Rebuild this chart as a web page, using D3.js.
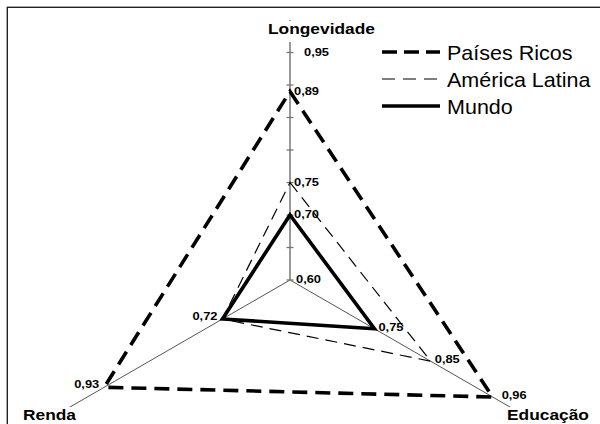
<!DOCTYPE html>
<html>
<head>
<meta charset="utf-8">
<script src="https://cdn.jsdelivr.net/npm/d3@7"></script>
<style>
  html, body { margin: 0; padding: 0; background: #fff; }
  svg { display: block; }
  text { font-family: "Liberation Sans", Arial, sans-serif; fill: #000; }
</style>
</head>
<body>
<svg id="chart" width="600" height="424"></svg>
<script>
// ---- data ----
const axesNames = ["Longevidade", "Educação", "Renda"];
const seriesNames = ["Países Ricos", "América Latina", "Mundo"];
const paisesRicos = [0.89, 0.96, 0.93];
const americaLatina = [0.75, 0.85, 0.72];
const mundo = [0.70, 0.75, 0.72];
const axisMin = 0.60;
const axisMax = 0.95;
const axisLabelValues = [0.95, 0.60];

// ---- layout ----
const svg = d3.select("#chart");
const cx = 290, cy = 280;
const r = d3.scaleLinear().domain([axisMin, axisMax]).range([0, 227.5]);
const angles = [-90, 30, 150].map(a => a * Math.PI / 180);
const pt = (i, v) => [cx + r(v) * Math.cos(angles[i]), cy + r(v) * Math.sin(angles[i])];
const fmt = v => d3.format(".2f")(v).replace(".", ",");

// frame
svg.append("rect").attr("x", 7.3).attr("y", 7.3).attr("width", 620).attr("height", 440)
  .attr("fill", "none").attr("stroke", "#222").attr("stroke-width", 1.4);

// axes
axesNames.forEach((name, i) => {
  const [x2, y2] = pt(i, 1.0);
  svg.append("line").attr("x1", cx).attr("y1", cy).attr("x2", x2).attr("y2", y2)
    .attr("stroke", i === 0 ? "#777" : "#555").attr("stroke-width", i === 0 ? 1.5 : 1);
});
// ticks on vertical axis
r.ticks(7).forEach(t => {
  const [x, y] = pt(0, t);
  svg.append("line").attr("x1", x - 3.5).attr("x2", x + 3.5).attr("y1", y).attr("y2", y)
    .attr("stroke", "#777").attr("stroke-width", 1.3);
});

// series
const series = [
  {name: seriesNames[0], values: paisesRicos, width: 3.6, dash: "15,8"},
  {name: seriesNames[1], values: americaLatina, width: 1.2, dash: "12,7"},
  {name: seriesNames[2], values: mundo, width: 3.6, dash: null}
];
const line = d3.line().curve(d3.curveLinearClosed);
series.forEach(s => {
  svg.append("path")
    .attr("d", line(s.values.map((v, i) => pt(i, v))))
    .attr("fill", "none").attr("stroke", "#000")
    .attr("stroke-width", s.width)
    .attr("stroke-linejoin", "miter")
    .attr("stroke-dasharray", s.dash);
});

// text helper with slight horizontal stretch
function label(x, y, txt, size, weight, anchor, sx) {
  const g = svg.append("g").attr("transform", `translate(${x},${y}) scale(${sx},1)`);
  const t = g.append("text").attr("font-size", size).attr("font-weight", weight)
    .attr("text-anchor", anchor).text(txt);
  return {g, t};
}

// axis min/max labels on vertical axis
axisLabelValues.forEach(v => {
  const [x, y] = pt(0, v);
  const dx = v === axisMax ? 14 : 6;
  label(x + dx, y + 3, fmt(v), 11.5, "bold", "start", 1.12);
});

// data labels
const labelled = new Set();
series.forEach(s => {
  s.values.forEach((v, i) => {
    const key = i + ":" + v;
    if (labelled.has(key)) return;
    labelled.add(key);
    const [x, y] = pt(i, v);
    if (i === 0) label(x + 4, y + 3, fmt(v), 11.5, "bold", "start", 1.12);
    else if (i === 1) label(x + (v > 0.9 ? 9 : 4), y + 2, fmt(v), 11.5, "bold", "start", 1.12);
    else label(x - 5, y + 1, fmt(v), 11.5, "bold", "end", 1.12);
  });
});

// axis titles with white background
const titlePos = [[268, 34, "start"], [507, 420, "start"], [23, 420, "start"]];
axesNames.forEach((name, i) => {
  const [x, y, anchor] = titlePos[i];
  const {g, t} = label(x, y, name, 15.5, "bold", anchor, 1.12);
  const bb = t.node().getBBox();
  g.insert("rect", "text").attr("x", bb.x - 2).attr("y", -13)
    .attr("width", bb.width + 4).attr("height", 21).attr("fill", "#fff");
});

// legend
const legendY = [52, 79, 106];
series.forEach((s, k) => {
  const y = legendY[k];
  svg.append("line").attr("x1", 382).attr("x2", 440).attr("y1", y).attr("y2", y)
    .attr("stroke", "#000").attr("stroke-width", s.width)
    .attr("stroke-dasharray", s.dash ? (k === 0 ? "15,7" : "13,8") : null);
  label(447, y + 8, s.name, 20.5, "normal", "start", 1.05);
});
</script>
</body>
</html>
